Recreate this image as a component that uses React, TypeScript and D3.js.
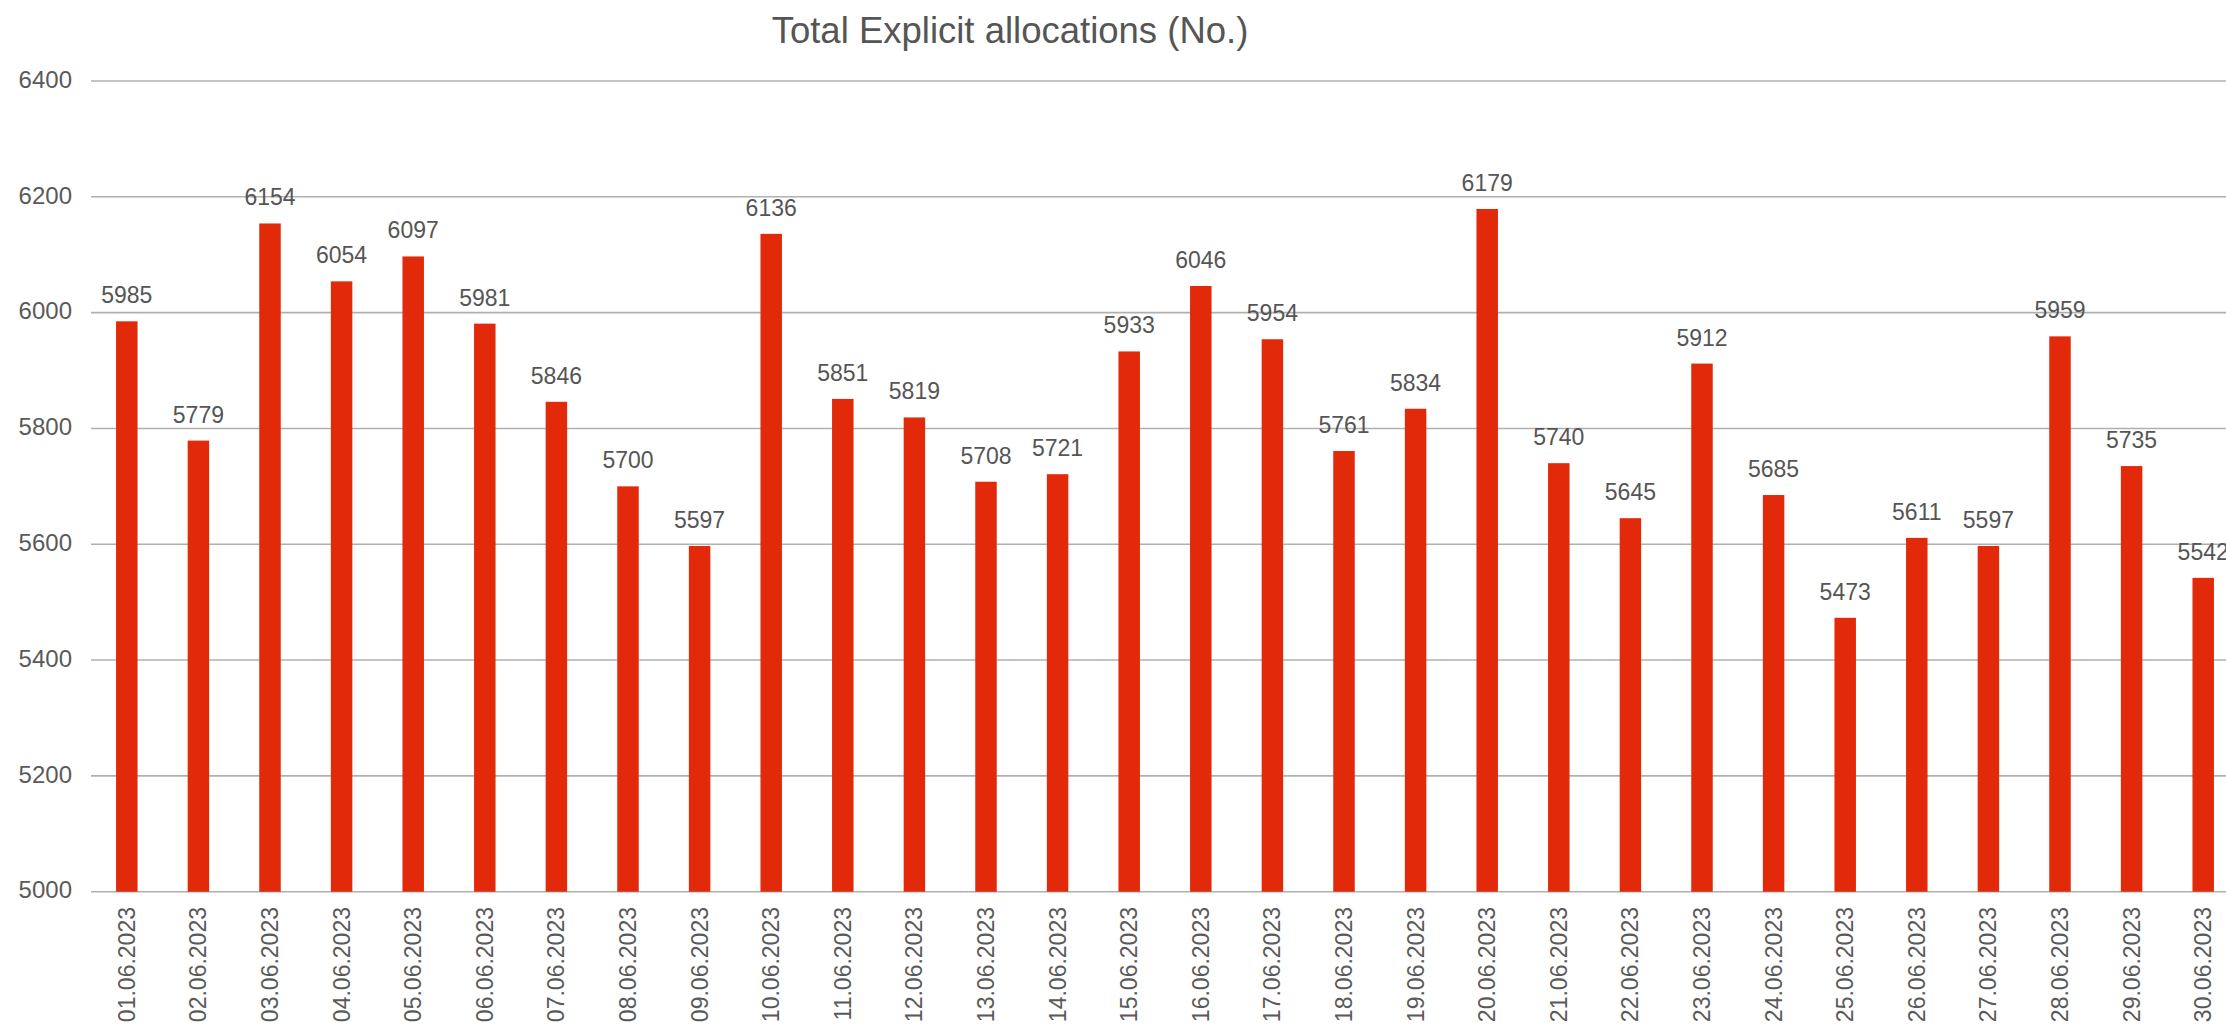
import React, { useEffect, useRef } from 'react';
import * as d3 from 'd3';

const dates = [
  '01.06.2023', '02.06.2023', '03.06.2023', '04.06.2023', '05.06.2023',
  '06.06.2023', '07.06.2023', '08.06.2023', '09.06.2023', '10.06.2023',
  '11.06.2023', '12.06.2023', '13.06.2023', '14.06.2023', '15.06.2023',
  '16.06.2023', '17.06.2023', '18.06.2023', '19.06.2023', '20.06.2023',
  '21.06.2023', '22.06.2023', '23.06.2023', '24.06.2023', '25.06.2023',
  '26.06.2023', '27.06.2023', '28.06.2023', '29.06.2023', '30.06.2023',
];

const allocations = [
  5985, 5779, 6154, 6054, 6097, 5981, 5846, 5700, 5597, 6136,
  5851, 5819, 5708, 5721, 5933, 6046, 5954, 5761, 5834, 6179,
  5740, 5645, 5912, 5685, 5473, 5611, 5597, 5959, 5735, 5542,
];

const yTicks = [5000, 5200, 5400, 5600, 5800, 6000, 6200, 6400];

const title = 'Total Explicit allocations (No.)';

export default function App() {
  const chartRef = useRef<SVGSVGElement>(null);

  useEffect(() => {
    const width = 2226;
    const height = 1027;
    const left = 91;
    const font = 'Arial, "Liberation Sans", sans-serif';

    const svg = d3.select(chartRef.current);
    svg.selectAll('*').remove();
    svg.attr('width', width).attr('height', height);

    const data = dates.map((d, i) => ({ date: d, value: allocations[i] }));

    const xScale = d3.scaleBand()
      .domain(dates)
      .range([left, left + 30 * 71.6])
      .paddingInner(0.7)
      .paddingOuter(0.35);

    const yScale = d3.scaleLinear()
      .domain([5000, 6400])
      .range([891.7, 81]);

    // gridlines
    svg.append('g')
      .selectAll('line')
      .data(yTicks)
      .enter()
      .append('line')
      .attr('x1', left)
      .attr('x2', width)
      .attr('y1', d => yScale(d))
      .attr('y2', d => yScale(d))
      .attr('stroke', '#b0b0b0')
      .attr('stroke-width', 1.6);

    // y labels
    svg.append('g')
      .selectAll('text')
      .data(yTicks)
      .enter()
      .append('text')
      .attr('x', 72)
      .attr('y', d => yScale(d))
      .attr('dy', '0.28em')
      .attr('text-anchor', 'end')
      .attr('font-family', font)
      .attr('font-size', 24)
      .attr('fill', '#5a5a5a')
      .text(d => d);

    // bars
    svg.append('g')
      .selectAll('rect')
      .data(data)
      .enter()
      .append('rect')
      .attr('x', d => xScale(d.date)!)
      .attr('y', d => yScale(d.value))
      .attr('width', xScale.bandwidth())
      .attr('height', d => yScale(5000) - yScale(d.value))
      .attr('fill', '#e2290a');

    // value labels
    svg.append('g')
      .selectAll('text')
      .data(data)
      .enter()
      .append('text')
      .attr('x', d => xScale(d.date)! + xScale.bandwidth() / 2)
      .attr('y', d => yScale(d.value) - 18)
      .attr('text-anchor', 'middle')
      .attr('font-family', font)
      .attr('font-size', 23)
      .attr('fill', '#555')
      .text(d => d.value);

    // x labels
    svg.append('g')
      .selectAll('text')
      .data(dates)
      .enter()
      .append('text')
      .attr('transform', d => `translate(${xScale(d)! + xScale.bandwidth() / 2}, 907) rotate(-90)`)
      .attr('dy', '0.35em')
      .attr('text-anchor', 'end')
      .attr('font-family', font)
      .attr('font-size', 23)
      .attr('fill', '#5a5a5a')
      .text(d => d);

    svg.append('text')
      .attr('x', 1010)
      .attr('y', 43)
      .attr('text-anchor', 'middle')
      .attr('font-family', font)
      .attr('font-size', 36.5)
      .attr('fill', '#555')
      .text(title);
  }, []);

  return (
    <svg
      ref={chartRef}
      style={{ position: 'absolute', left: 0, top: 0, display: 'block', background: '#fff' }}
    />
  );
}
